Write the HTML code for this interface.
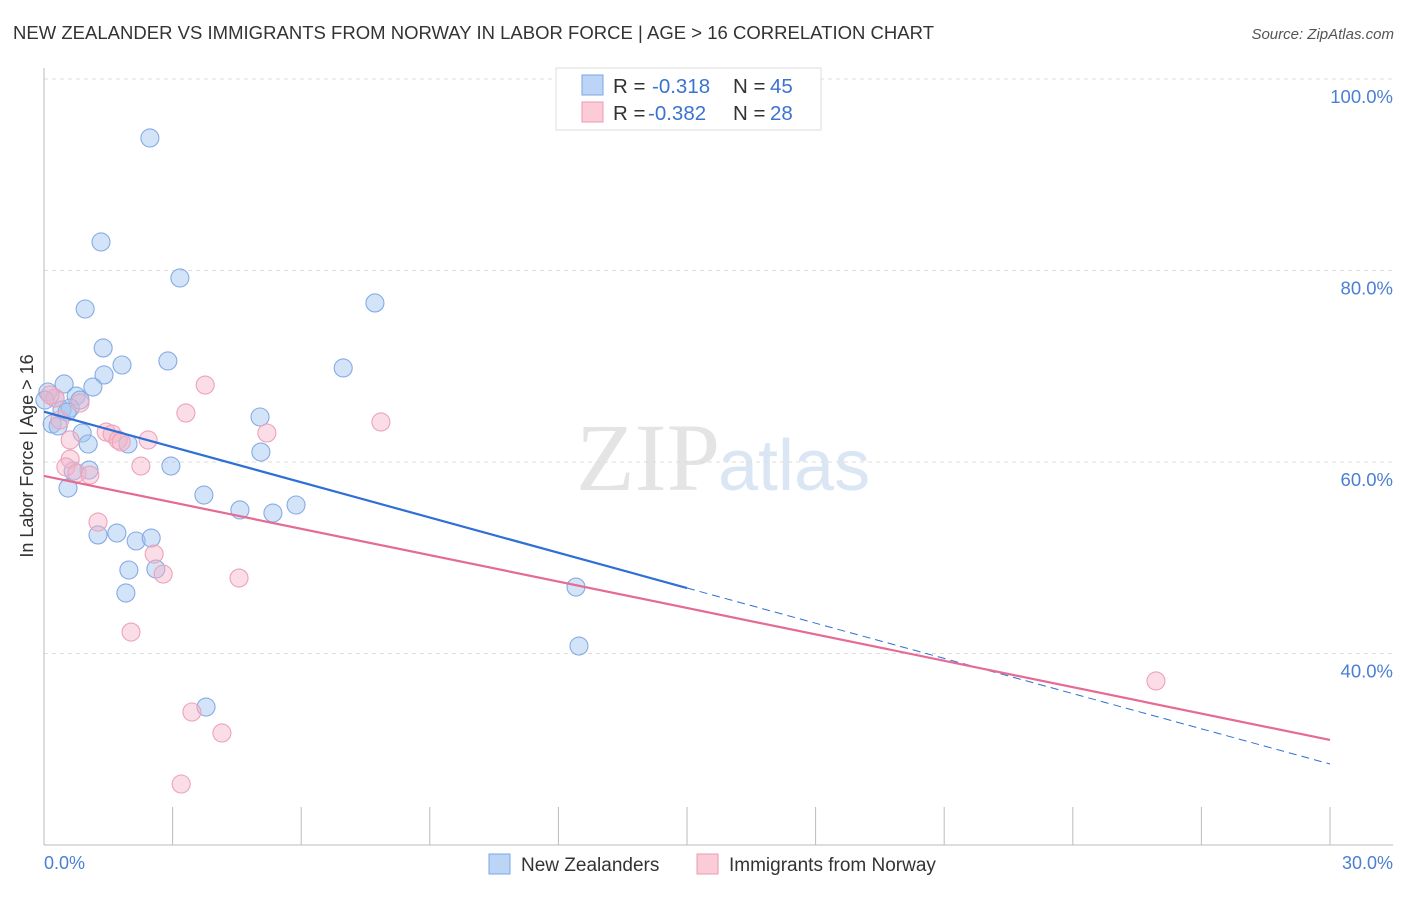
<!DOCTYPE html>
<html><head><meta charset="utf-8"><style>
body{margin:0;background:#fff;font-family:"Liberation Sans",sans-serif;}
</style></head><body>
<svg id="chart" width="1406" height="892" xmlns="http://www.w3.org/2000/svg">
<text x="13" y="39" font-size="18.5" fill="#333" textLength="921">NEW ZEALANDER VS IMMIGRANTS FROM NORWAY IN LABOR FORCE | AGE &gt; 16 CORRELATION CHART</text>
<text x="1394" y="39" font-size="15" fill="#555" font-style="italic" text-anchor="end">Source: ZipAtlas.com</text>
<text x="720" y="490" font-size="96" fill="#e4e4e4" text-anchor="end" font-family="Liberation Serif,serif">ZIP</text>
<text x="718" y="490" font-size="72" fill="#dbe6f5">atlas</text>
<g id="grid"></g>
<line x1="44" y1="68" x2="44" y2="845" stroke="#bbb"/>
<line x1="44" y1="845" x2="1393" y2="845" stroke="#bbb"/>
<g id="ticks"></g>
<text transform="translate(33,456) rotate(-90)" font-size="18" fill="#333" text-anchor="middle">In Labor Force | Age &gt; 16</text>
<text x="44" y="869" font-size="18" fill="#4a7fd4">0.0%</text>
<text x="1393" y="869" font-size="18" fill="#4a7fd4" text-anchor="end">30.0%</text>
<g id="points"></g>
<g id="lines"></g>
<g>
<rect x="556" y="68" width="265" height="62" fill="#fff" stroke="#ddd"/>
<rect x="582" y="75" width="21" height="20" fill="#bcd5f7" stroke="#7aa6e6"/>
<rect x="582" y="102" width="21" height="20" fill="#fbcbd8" stroke="#ee9ab3"/>
<text x="613" y="93" font-size="20.5" fill="#333">R = </text><text x="652" y="93" font-size="20.5" fill="#3a73d0">-0.318</text>
<text x="733" y="93" font-size="20.5" fill="#333">N = </text><text x="770" y="93" font-size="20.5" fill="#3a73d0">45</text>
<text x="613" y="120" font-size="20.5" fill="#333">R = </text><text x="648" y="120" font-size="20.5" fill="#3a73d0">-0.382</text>
<text x="733" y="120" font-size="20.5" fill="#333">N = </text><text x="770" y="120" font-size="20.5" fill="#3a73d0">28</text>
</g>
<g>
<rect x="489" y="854" width="21" height="20" fill="#bcd5f7" stroke="#7aa6e6"/>
<text x="521" y="871" font-size="19" fill="#333">New Zealanders</text>
<rect x="697" y="854" width="21" height="20" fill="#fbcbd8" stroke="#ee9ab3"/>
<text x="729" y="871" font-size="19" fill="#333">Immigrants from Norway</text>
</g>
</svg>
<script>
const yTicks=[100,80,60,40];
const blueX=[2.47,1.33,3.17,0.96,7.72,1.38,2.89,1.82,6.98,1.40,0.47,1.14,0.09,0.75,0.84,0.26,0.42,0.61,0.19,0.33,5.04,0.89,1.03,1.96,5.06,2.96,1.05,0.68,0.56,3.73,4.57,5.34,5.88,1.26,1.70,2.15,2.50,1.98,2.61,1.91,12.41,12.48,3.78,0.02,0.54];
const blueY=[93.84,82.98,79.22,75.98,76.61,71.91,70.55,70.13,69.82,69.09,68.15,67.83,67.31,66.89,66.47,66.68,65.43,65.64,63.97,63.76,64.70,63.03,61.88,61.88,61.04,59.58,59.16,59.06,57.28,56.55,54.99,54.67,55.51,52.38,52.58,51.75,52.06,48.72,48.82,46.32,46.94,40.78,34.41,66.47,65.22];
const pinkX=[0.26,0.84,0.37,3.31,3.76,7.86,5.20,1.45,1.59,1.73,2.43,1.80,0.61,0.51,2.26,0.77,1.07,1.26,2.57,2.78,4.55,2.03,3.45,4.15,3.20,25.94,0.14,0.61];
const pinkY=[66.68,66.16,64.39,65.12,68.04,64.18,63.03,63.13,62.92,62.30,62.30,62.09,60.31,59.48,59.58,58.85,58.64,53.73,50.39,48.30,47.88,42.24,33.89,31.70,26.37,37.13,67.00,62.30];
const blueTrend=[65.25,46.84,28.46];
const pinkTrend=[58.54,30.97];
const NS='http://www.w3.org/2000/svg';
const sx=v=>44+v/30*1286;
const sy=v=>79+(100-v)/20*191.5;
function mk(tag,attrs,parent){const e=document.createElementNS(NS,tag);for(const k in attrs)e.setAttribute(k,attrs[k]);document.getElementById(parent).appendChild(e);return e;}
yTicks.forEach(t=>{
  const l=mk('line',{x1:44,x2:1393,y1:sy(t),y2:sy(t),stroke:'#ddd','stroke-dasharray':'4,4'},'grid');
  
  
  const tx=mk('text',{x:1393,y:sy(t)+24,'font-size':18.5,fill:'#4a7fd4','text-anchor':'end'},'grid');
  tx.textContent=t.toFixed(1)+'%';
  
  
});
for(let i=1;i<=10;i++){
  const l=mk('line',{x1:sx(i*3),x2:sx(i*3),y1:807,y2:845,stroke:'#bbb'},'ticks');
  
  
}
blueX.forEach((x,i)=>{
  const c=mk('circle',{cx:sx(x),cy:sy(blueY[i]),r:9,fill:'rgba(160,196,240,0.45)',stroke:'#85abe4','stroke-width':1.1},'points');
  
  
});
pinkX.forEach((x,i)=>{
  const c=mk('circle',{cx:sx(x),cy:sy(pinkY[i]),r:9,fill:'rgba(245,180,200,0.45)',stroke:'#eea2b9','stroke-width':1.1},'points');
  
  
});
let t1=mk('line',{x1:sx(0),y1:sy(blueTrend[0]),x2:sx(15),y2:sy(blueTrend[1]),stroke:'#2f6fd6','stroke-width':2.2},'lines');


let t2=mk('line',{x1:sx(15),y1:sy(blueTrend[1]),x2:sx(30),y2:sy(blueTrend[2]),stroke:'#2f6fd6','stroke-width':1,'stroke-dasharray':'8,5'},'lines');


let t3=mk('line',{x1:sx(0),y1:sy(pinkTrend[0]),x2:sx(30),y2:sy(pinkTrend[1]),stroke:'#e56a94','stroke-width':2.2},'lines');


</script>
</body></html>
